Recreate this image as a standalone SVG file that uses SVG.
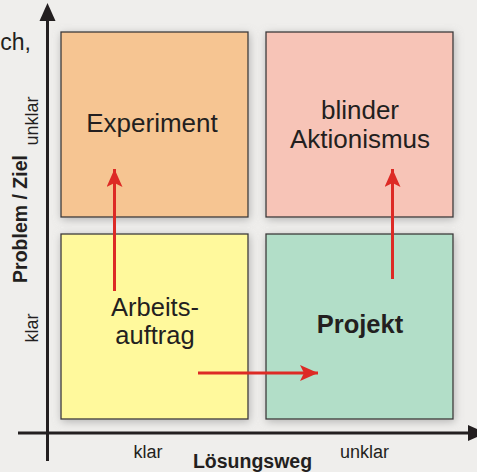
<svg xmlns="http://www.w3.org/2000/svg" width="477" height="472" viewBox="0 0 477 472">
  <style>
    .box { stroke: #3c3a3a; stroke-width: 1.3; filter: url(#shadow); }
    .lbl { font-family: "Liberation Sans", Arial, sans-serif; fill: #231f20; text-anchor: middle; }
    .big { font-size: 26px; }
    .axl { font-size: 18px; }
    .axt { font-size: 19.5px; font-weight: bold; }
    .axis { stroke: #231f20; stroke-width: 3; fill: none; }
    .flow { stroke: #dd2a25; stroke-width: 3; fill: none; marker-end: url(#redHead); }
  </style>
  <defs>
    <filter id="shadow" x="-20%" y="-20%" width="140%" height="140%">
      <feGaussianBlur in="SourceAlpha" stdDeviation="4"/>
      <feOffset dx="1" dy="2" result="blur"/>
      <feFlood flood-color="#8a8a8a" flood-opacity="0.6"/>
      <feComposite in2="blur" operator="in"/>
      <feMerge>
        <feMergeNode/>
        <feMergeNode in="SourceGraphic"/>
      </feMerge>
    </filter>
    <marker id="redHead" markerWidth="18" markerHeight="16" refX="18" refY="8" orient="auto" markerUnits="userSpaceOnUse">
      <path d="M0,0 L18,8 L0,16 L4,8 Z" fill="#dd2a25"/>
    </marker>
  </defs>

  <rect width="477" height="472" fill="#efeeec"/>

  <!-- partial caption at the left edge -->
  <text class="lbl" x="31" y="50" style="font-size:23px;text-anchor:end">ch,</text>

  <!-- quadrants -->
  <g id="experiment">
    <rect class="box" x="61" y="32" width="187" height="185" fill="#f6c592"/>
    <text class="lbl big" x="152" y="132">Experiment</text>
  </g>
  <g id="blinder-aktionismus">
    <rect class="box" x="266" y="32" width="187" height="185" fill="#f7c4b7"/>
    <text class="lbl big" x="360" y="119">blinder</text>
    <text class="lbl big" x="360" y="148">Aktionismus</text>
  </g>
  <g id="arbeitsauftrag">
    <rect class="box" x="61" y="234" width="187" height="185" fill="#fff99c"/>
    <text class="lbl" x="155" y="316" style="font-size:25.5px">Arbeits-</text>
    <text class="lbl" x="155" y="344" style="font-size:25.5px">auftrag</text>
  </g>
  <g id="projekt">
    <rect class="box" x="266" y="234" width="187" height="185" fill="#b2dec8"/>
    <text class="lbl" x="360" y="333" style="font-weight:bold;font-size:25.5px">Projekt</text>
  </g>

  <!-- axes -->
  <g id="axes">
    <line class="axis" x1="47.5" y1="461" x2="47.5" y2="18"/>
    <path d="M47.5,3 L55.5,21 L39.5,21 Z" fill="#231f20"/>
    <line class="axis" x1="18" y1="433" x2="470" y2="433"/>
    <path d="M486,433 L468,441 L468,425 Z" fill="#231f20"/>
    <text class="lbl axt" transform="translate(27,219) rotate(-90)">Problem / Ziel</text>
    <text class="lbl axl" transform="translate(38,328) rotate(-90)">klar</text>
    <text class="lbl axl" transform="translate(38,121) rotate(-90)">unklar</text>
    <text class="lbl axl" x="148" y="458">klar</text>
    <text class="lbl axl" x="364.5" y="458">unklar</text>
    <text class="lbl axt" x="252.5" y="468">Lösungsweg</text>
  </g>

  <!-- transitions -->
  <g id="connectors">
    <line class="flow" x1="114.5" y1="291" x2="114.5" y2="169"/>
    <line class="flow" x1="392.5" y1="279" x2="392.5" y2="169"/>
    <line class="flow" x1="198" y1="373" x2="318" y2="373"/>
  </g>
</svg>
